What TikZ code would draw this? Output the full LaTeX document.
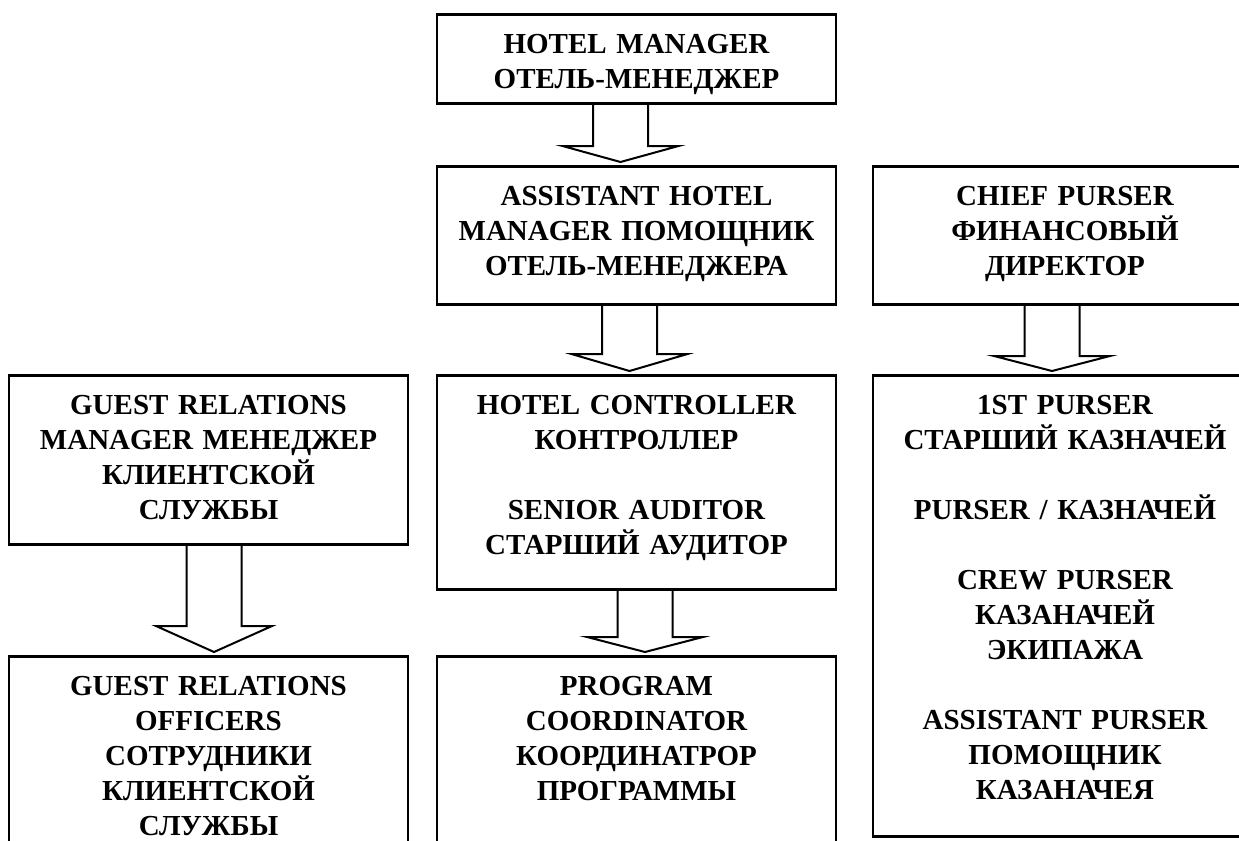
\documentclass[tikz,border=0pt]{standalone}
\usepackage{fontspec}
\setmainfont{Liberation Serif}
\usetikzlibrary{calc}
\begin{document}
\begin{tikzpicture}[x=0.5pt,y=-0.5pt,line join=miter,
		post/.style={draw,line width=1.3pt,anchor=north,inner xsep=0pt,inner ysep=0pt,
			text width=199.5pt,align=center,text height=19.75pt,
			font=\fontsize{14.5}{17.5}\selectfont\bfseries},
		flow/.style={line width=1pt}]
		\useasboundingbox (0,0) rectangle (1239,841);
		\clip (0,0) rectangle (1239,841);
		\def\passto#1#2#3#4{\draw[flow] ($(#1.south)+(#3-27.5,0)$) |- ($(#2.north)+(#3-58,-3-#4)$) -- ($(#2.north)+(#3,-3)$) -- ($(#2.north)+(#3+58,-3-#4)$) -| ($(#1.south)+(#3+27.5,0)$);}
		% middle column
		\node[post,text depth=24.75pt] (hm) at (636.5,13) {HOTEL MANAGER\\ОТЕЛЬ-МЕНЕДЖЕР};
		\node[post,text depth=49.25pt] (ahm) at (636.5,165) {ASSISTANT HOTEL\\MANAGER ПОМОЩНИК\\ОТЕЛЬ-МЕНЕДЖЕРА};
		\node[post,text depth=87.25pt] (hc) at (636.5,374) {HOTEL CONTROLLER\\КОНТРОЛЛЕР\\[17.5pt]SENIOR AUDITOR\\СТАРШИЙ АУДИТОР};
		\node[post,text depth=150pt] (pc) at (636.5,655) {PROGRAM\\COORDINATOR\\КООРДИНАТРОР\\ПРОГРАММЫ};
		% left column
		\node[post,text depth=64.75pt] (grm) at (208.5,374) {GUEST RELATIONS\\MANAGER МЕНЕДЖЕР\\КЛИЕНТСКОЙ\\СЛУЖБЫ};
		\node[post,text depth=150pt] (gro) at (208.5,655) {GUEST RELATIONS\\OFFICERS\\СОТРУДНИКИ\\КЛИЕНТСКОЙ\\СЛУЖБЫ};
		% right column
		\node[post,text width=192pt,text depth=49.25pt] (cp) at (1065,165) {CHIEF PURSER\\ФИНАНСОВЫЙ\\ДИРЕКТОР};
		\node[post,text width=192pt,text depth=210.75pt] (pur) at (1065,374) {1ST PURSER\\СТАРШИЙ КАЗНАЧЕЙ\\[17.5pt]PURSER / КАЗНАЧЕЙ\\[17.5pt]CREW PURSER\\КАЗАНАЧЕЙ\\ЭКИПАЖА\\[17.5pt]ASSISTANT PURSER\\ПОМОЩНИК\\КАЗАНАЧЕЯ};
		\passto{hm}{ahm}{-16}{16}
		\passto{ahm}{hc}{-7}{17}
		\passto{hc}{pc}{8.5}{15}
		\passto{grm}{gro}{5.5}{26}
		\passto{cp}{pur}{-13}{15}
		\end{tikzpicture}
\end{document}
